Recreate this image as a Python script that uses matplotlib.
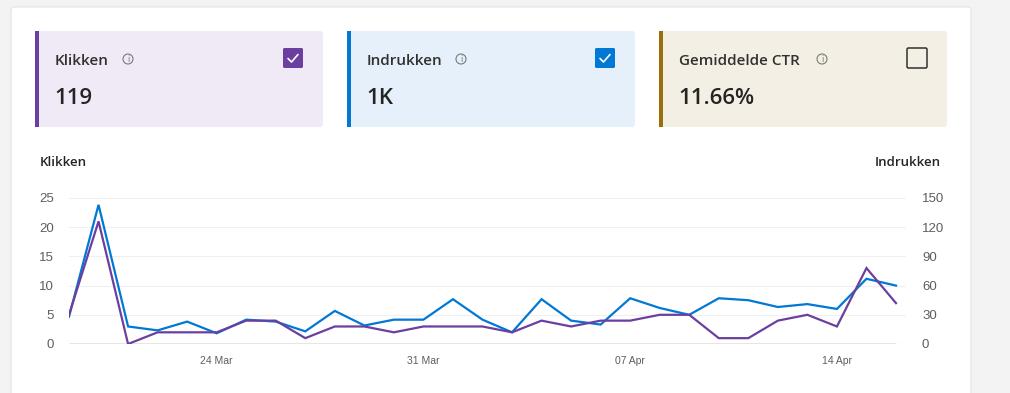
import numpy as np
import pandas as pd
import matplotlib
matplotlib.use("Agg")
import matplotlib.pyplot as plt
import matplotlib.dates as mdates
from matplotlib.patches import FancyBboxPatch, Rectangle, Circle

# data
dates = pd.date_range("2024-03-19", "2024-04-16", freq="D")
klikken = [5, 21, 0, 2, 2, 2, 4, 4, 1, 3, 3, 2, 3, 3, 3, 2, 4, 3, 4, 4,
           5, 5, 1, 1, 4, 5, 3, 13, 7]
indrukken = [28, 143, 18, 14, 23, 11, 25, 23, 13, 34, 19, 25, 25, 46, 25, 12,
             46, 24, 20, 47, 37, 30, 47, 45, 38, 41, 36, 67, 60]
card_titles = ["Klikken", "Indrukken", "Gemiddelde CTR"]
card_values = ["119", "1K", "11.66%"]
card_checked = [True, True, False]
left_ticks = [0, 5, 10, 15, 20, 25]
right_ticks = [0, 30, 60, 90, 120, 150]
tick_dates = ["2024-03-24", "2024-03-31", "2024-04-07", "2024-04-14"]

PURPLE = "#6b3fa0"
BLUE = "#0078d4"
BROWN = "#986f0b"
card_border = [PURPLE, BLUE, BROWN]
card_bg = ["#f0eaf6", "#e5f0fa", "#f3efe4"]
card_x = [35, 347, 659]

W, H = 1010, 393
fig = plt.figure(figsize=(W / 100, H / 100), dpi=100)
fig.patch.set_facecolor("#f3f3f3")

TXT = ["Open Sans", "DejaVu Sans"]

# background layer in pixel coordinates
bg = fig.add_axes([0, 0, 1, 1], zorder=0)
bg.set_xlim(0, W)
bg.set_ylim(H, 0)
bg.axis("off")
bg.add_patch(FancyBboxPatch((11, 7), 960, 400, boxstyle="round,pad=0,rounding_size=3",
                            facecolor="white", edgecolor="#e4e4e4", linewidth=0.8))

for i, x0 in enumerate(card_x):
    bg.add_patch(FancyBboxPatch((x0, 31), 288, 96, boxstyle="round,pad=0,rounding_size=3",
                                facecolor=card_bg[i], edgecolor="none"))
    bg.add_patch(Rectangle((x0, 31), 4, 96, facecolor=card_border[i], edgecolor="none"))
    bg.text(x0 + 20, 61, card_titles[i], fontsize=11, family=TXT, fontweight="semibold",
            color="#323130", va="center", ha="left")
    bg.text(x0 + 19, 99, card_values[i], fontsize=16, family=TXT, fontweight="semibold",
            color="#252423", va="center", ha="left")
    # info icon
    icon_x = [128, 461, 822][i]
    bg.add_patch(Circle((icon_x, 59), 5, facecolor="none", edgecolor="#7a7a7a", linewidth=0.8))
    bg.text(icon_x, 59.5, "i", fontsize=6, color="#7a7a7a", ha="center", va="center",
            family="DejaVu Sans")
    # checkbox
    cx = x0 + 248
    if card_checked[i]:
        bg.add_patch(FancyBboxPatch((cx, 48), 20, 20, boxstyle="round,pad=0,rounding_size=1.5",
                                    facecolor=card_border[i], edgecolor="none"))
        bg.plot([cx + 5, cx + 8.5, cx + 15], [58.5, 62, 54.5], color="white", linewidth=1.2,
                solid_capstyle="round")
    else:
        bg.add_patch(FancyBboxPatch((cx, 48), 20, 20, boxstyle="round,pad=0,rounding_size=1.5",
                                    facecolor="none", edgecolor="#323130", linewidth=1.1))

# chart labels
bg.text(40, 163, "Klikken", fontsize=9.5, family=TXT, fontweight="semibold",
        color="#252423", va="center", ha="left")
bg.text(941, 163, "Indrukken", fontsize=9.5, family=TXT, fontweight="semibold",
        color="#252423", va="center", ha="right")

# main chart axes: x from 69 to 906 px, y from 344 (0) to 198 (top)
ax = fig.add_axes([69 / W, (H - 344) / H, (906 - 69) / W, (344 - 198) / H], zorder=2)
ax2 = ax.twinx()
ax.set_zorder(3)
ax.patch.set_visible(False)
ax2.set_zorder(2)

x0_num = mdates.date2num(dates[0])
x1_num = mdates.date2num(dates[-1])
ax.set_xlim(x0_num, x1_num + 10 / 29.55)
ax.set_ylim(0, 25)
ax2.set_ylim(0, 150)

ax2.plot(dates, indrukken, color=BLUE, linewidth=1.6, solid_joinstyle="miter")
ax.plot(dates, klikken, color=PURPLE, linewidth=1.6, solid_joinstyle="miter")
ax.hlines(0, x0_num, x1_num, color="#8a8886", linewidth=1.0, zorder=1)

ax2.set_yticks(right_ticks)
ax2.grid(axis="y", color="#f0f0f0", linewidth=0.8)
ax.set_yticks(left_ticks)
ax.set_xticks(pd.to_datetime(tick_dates))
ax.xaxis.set_major_formatter(mdates.DateFormatter("%d %b"))

for a in (ax, ax2):
    for s in a.spines.values():
        s.set_visible(False)
    a.tick_params(length=0)

ax.tick_params(axis="y", labelsize=9.5, labelcolor="#605e5c", pad=11)
ax2.tick_params(axis="y", labelsize=9.5, labelcolor="#605e5c", pad=11.5)
ax.tick_params(axis="x", labelsize=7.5, labelcolor="#605e5c", pad=8.5)
for lab in ax.get_yticklabels() + ax2.get_yticklabels() + ax.get_xticklabels():
    lab.set_family(["Liberation Sans", "DejaVu Sans"])

fig.savefig("out.png", dpi=100, facecolor=fig.get_facecolor())
